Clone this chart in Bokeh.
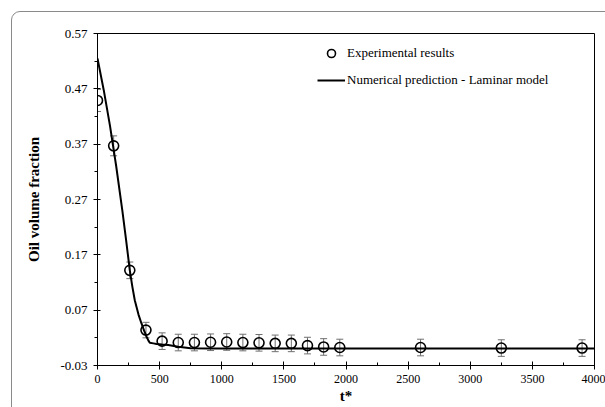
from bokeh.plotting import figure
from bokeh.models import (Range1d, FixedTicker, PrintfTickFormatter, Whisker, ColumnDataSource,
                          Legend, LegendItem, TeeHead, InlineStyleSheet)
from bokeh.embed import file_html
from bokeh.resources import INLINE

# Experimental data
exp_t = [0, 130, 260, 390, 520, 650, 780, 910, 1040, 1170, 1300, 1430, 1560, 1690, 1820, 1950, 2600, 3250, 3900]
exp_v = [0.449, 0.367, 0.142, 0.034, 0.014, 0.0115, 0.0115, 0.012, 0.0125, 0.0115, 0.011, 0.010, 0.010,
         0.006, 0.0035, 0.0025, 0.0025, 0.0015, 0.0015]
exp_err = [0.02, 0.018, 0.015, 0.014, 0.015, 0.015, 0.015, 0.015, 0.015, 0.015, 0.015, 0.015, 0.015,
           0.015, 0.015, 0.015, 0.015, 0.015, 0.015]

# Numerical prediction (laminar model)
num_t = [0, 50, 100, 150, 200, 230, 260, 280, 300, 330, 354, 375, 395, 410, 421, 450, 475, 520, 569,
         650, 750, 900, 1200, 2000, 3000, 4000]
num_v = [0.525, 0.468, 0.404, 0.331, 0.25, 0.197, 0.142, 0.113, 0.088, 0.062, 0.046, 0.033, 0.022,
         0.015, 0.011, 0.010, 0.009, 0.008, 0.007, 0.004, 0.001, 0.0005, 0.0005, 0.0005, 0.0005, 0.0005]

y_ticks = [-0.03, 0.07, 0.17, 0.27, 0.37, 0.47, 0.57]
y_minor = [0.02, 0.12, 0.22, 0.32, 0.42, 0.52]
x_ticks = [0, 500, 1000, 1500, 2000, 2500, 3000, 3500, 4000]
x_minor = [250, 750, 1250, 1750, 2250, 2750, 3250, 3750]

FONT = "Liberation Serif"

p = figure(width=605, height=407, output_backend="svg", toolbar_location=None,
           x_range=Range1d(0, 4000), y_range=Range1d(-0.03, 0.57),
           min_border_left=97, min_border_right=11, min_border_top=33, min_border_bottom=42)
p.grid.visible = False
p.outline_line_color = "black"
p.outline_line_width = 1
p.background_fill_color = "white"
p.border_fill_color = "white"

# axes
p.xaxis.ticker = FixedTicker(ticks=x_ticks, minor_ticks=x_minor)
p.yaxis.ticker = FixedTicker(ticks=y_ticks, minor_ticks=y_minor)
p.yaxis.formatter = PrintfTickFormatter(format="%.2f")
for ax in (p.xaxis, p.yaxis):
    ax.axis_line_color = "black"
    ax.axis_line_width = 1
    ax.major_tick_line_color = "black"
    ax.minor_tick_line_color = "black"
    ax.major_label_text_font = FONT
    ax.major_label_text_color = "black"
    ax.axis_label_text_font = FONT
    ax.axis_label_text_font_style = "bold"
    ax.axis_label_text_font_size = "15px"
    ax.axis_label_text_color = "black"
p.xaxis.major_label_text_font_size = "12px"
p.yaxis.major_label_text_font_size = "13px"
p.xaxis.major_tick_in = 4
p.xaxis.major_tick_out = 4
p.xaxis.minor_tick_in = 3
p.xaxis.minor_tick_out = 0
p.yaxis.major_tick_in = 3
p.yaxis.major_tick_out = 4
p.yaxis.minor_tick_in = 0
p.yaxis.minor_tick_out = 3
p.xaxis.major_label_standoff = 5
p.yaxis.major_label_standoff = 6
p.xaxis.axis_label = "t*"
p.yaxis.axis_label = "Oil volume fraction"
p.xaxis.axis_label_standoff = 2
p.yaxis.axis_label_standoff = 15

# data
src = ColumnDataSource(dict(t=exp_t, v=exp_v,
                            lo=[v - e for v, e in zip(exp_v, exp_err)],
                            hi=[v + e for v, e in zip(exp_v, exp_err)]))

line_r = p.line(num_t, num_v, line_color="black", line_width=2)

wh = Whisker(source=src, base="t", upper="hi", lower="lo", line_color="#707070", line_width=1,
             upper_head=TeeHead(size=7, line_color="#707070", line_width=1),
             lower_head=TeeHead(size=7, line_color="#707070", line_width=1))
p.add_layout(wh)

pts_r = p.scatter("t", "v", source=src, marker="circle", size=10, fill_alpha=0,
                  line_color="black", line_width=1.6)

legend = Legend(items=[LegendItem(label="Experimental results", renderers=[pts_r]),
                       LegendItem(label="Numerical prediction - Laminar model", renderers=[line_r])],
                location=(220, 275), padding=0, margin=0, spacing=7,
                glyph_width=28, glyph_height=20, label_height=20, label_standoff=2,
                label_text_font=FONT, label_text_font_size="13px", label_text_color="black",
                border_line_alpha=0, background_fill_alpha=0)
p.add_layout(legend, "center")

# outer rounded border of the figure panel (page decoration)
p.stylesheets = [InlineStyleSheet(css="""
:host { overflow: hidden; }
:host::after {
  content: ""; position: absolute; left: 11px; top: 11px; right: -20px; bottom: -20px;
  border: 1.5px solid #8a8a8a; border-radius: 9px; pointer-events: none;
}
""")]

open("out.html", "w").write(file_html(p, INLINE))
